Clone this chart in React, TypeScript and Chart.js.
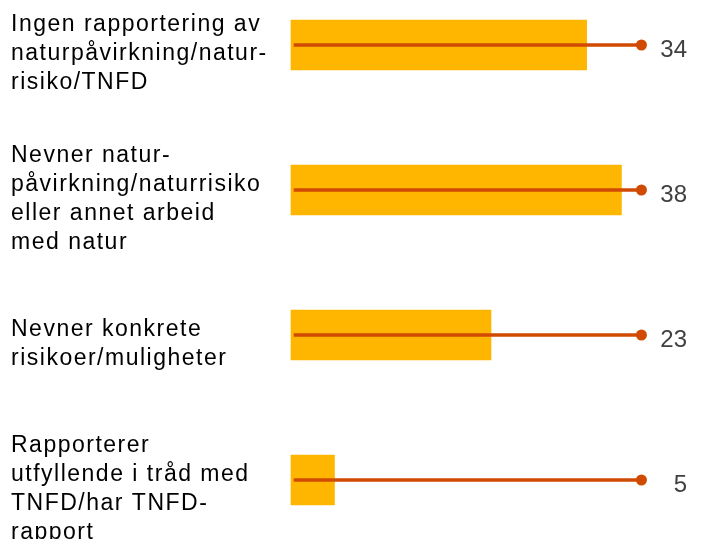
import React, { useEffect, useRef } from "react";
import { Chart, registerables } from "chart.js";

Chart.register(...registerables);

const categories: string[][] = [
  ["Ingen rapportering av", "naturpåvirkning/natur-", "risiko/TNFD"],
  ["Nevner natur-", "påvirkning/naturrisiko", "eller annet arbeid", "med natur"],
  ["Nevner konkrete", "risikoer/muligheter"],
  ["Rapporterer", "utfyllende i tråd med", "TNFD/har TNFD-", "rapport"],
];
const values: number[] = [34, 38, 23, 5];
const lineStart: number[] = [0.35, 0.35, 0.35, 0.35];
const lineEnd: number[] = [40.3, 40.3, 40.3, 40.3];
const valueLabels: string[] = ["34", "38", "23", "5"];

const BAR_COLOR = "#FFB600";
const LINE_COLOR = "#D04A02";

const spacingPlugin = {
  id: "letterSpacingPlugin",
  beforeDraw(chart: any) {
    chart.ctx.letterSpacing = "1.5px";
  },
};

const valueLabelPlugin = {
  id: "valueLabelPlugin",
  afterDraw(chart: any) {
    const ctx = chart.ctx;
    const yScale = chart.scales.y;
    const area = chart.chartArea;
    ctx.save();
    ctx.letterSpacing = "0px";
    ctx.font = "24px 'Liberation Sans', Arial, sans-serif";
    ctx.fillStyle = "#404040";
    ctx.textAlign = "right";
    ctx.textBaseline = "middle";
    valueLabels.forEach((t, i) => {
      const y = yScale.getPixelForValue(i);
      ctx.fillText(t, area.right - 4, y + 5);
    });
    ctx.restore();
  },
};

export default function App() {
  const ref = useRef<HTMLCanvasElement | null>(null);

  useEffect(() => {
    if (!ref.current) return;
    const chart = new Chart(ref.current, {
      type: "bar",
      data: {
        labels: categories as any,
        datasets: [
          {
            type: "bar",
            data: values,
            backgroundColor: BAR_COLOR,
            barThickness: 50,
            grouped: false,
            clip: false as any,
            order: 3,
          } as any,
          {
            type: "bar",
            data: lineStart.map((s, i) => [s, lineEnd[i]]),
            backgroundColor: LINE_COLOR,
            barThickness: 3,
            grouped: false,
            clip: false as any,
            order: 2,
          } as any,
          {
            type: "line",
            indexAxis: "y",
            data: lineEnd,
            showLine: false,
            pointRadius: 5.5,
            pointBackgroundColor: LINE_COLOR,
            pointBorderWidth: 0,
            clip: false as any,
            order: 1,
          } as any,
        ],
      },
      options: {
        indexAxis: "y",
        animation: false,
        responsive: true,
        maintainAspectRatio: false,
        layout: { padding: { top: 45, bottom: 59, left: 11, right: 10 } },
        plugins: {
          legend: { display: false },
          tooltip: { enabled: false },
        },
        scales: {
          x: {
            type: "linear",
            min: 0,
            max: 46,
            display: false,
          },
          y: {
            type: "category",
            offset: false,
            grid: { display: false },
            border: { display: false },
            afterFit: (scale: any) => {
              scale.width = 280;
              scale.paddingTop = 0;
              scale.paddingBottom = 0;
            },
            ticks: {
              autoSkip: false,
              crossAlign: "far",
              labelOffset: 9,
              color: "#000000",
              font: {
                family: "'Liberation Sans', Arial, sans-serif",
                size: 23,
                lineHeight: 29 / 23,
              },
            },
          },
        },
      },
      plugins: [spacingPlugin, valueLabelPlugin],
    });
    return () => chart.destroy();
  }, []);

  return (
    <div style={{ position: "absolute", left: 0, top: 0, width: 701, height: 539, background: "#fff" }}>
      <canvas ref={ref} />
    </div>
  );
}
